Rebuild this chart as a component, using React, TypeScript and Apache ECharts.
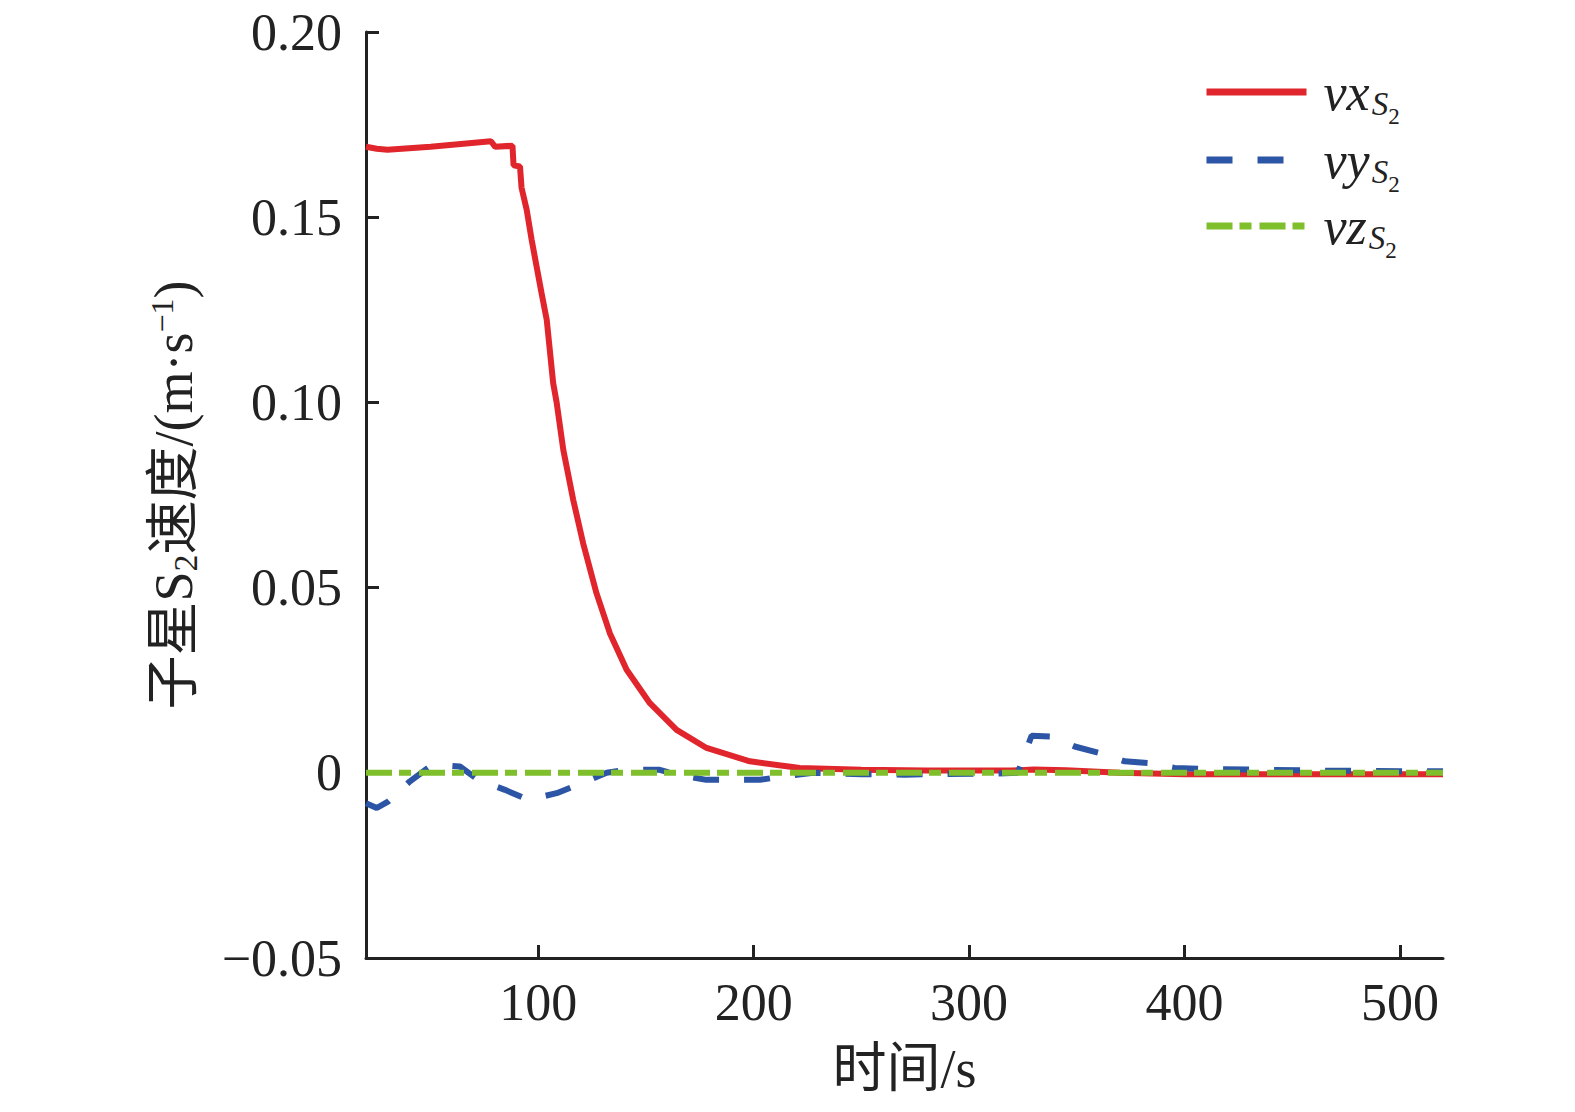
import React, { useEffect, useRef } from "react";
import * as echarts from "echarts";

const timeVx = [20, 25, 30, 50, 78, 80, 88, 88.5, 91.5, 92.2, 94.6, 96.9, 99.2, 101.5, 103.9, 106.9, 108.5, 111.6, 116.2, 120.8, 127, 133.2, 141, 151.8, 164.2, 178.1, 198.2, 221.4, 250, 280, 300, 320, 330, 345, 370, 400, 450, 520];
const vx = [0.169, 0.1685, 0.1682, 0.169, 0.1705, 0.169, 0.1693, 0.164, 0.1637, 0.158, 0.152, 0.1439, 0.1367, 0.1295, 0.1223, 0.1052, 0.1, 0.0872, 0.0737, 0.062, 0.0485, 0.0377, 0.0278, 0.0188, 0.0116, 0.0067, 0.0031, 0.0013, 0.0008, 0.0006, 0.0006, 0.0006, 0.0009, 0.0007, 0.0, -0.0004, -0.0004, -0.0004];

const timeVy = [20, 25, 30.4, 40.4, 49.7, 57, 63.6, 72.1, 84.5, 95.3, 108.5, 118.5, 131.7, 141, 156.4, 164.2, 178, 202.8, 213.6, 227.6, 250, 270, 290, 313, 322.6, 329, 338, 349, 360.6, 372.2, 383.8, 395.4, 413, 437, 462, 486, 510, 520];
const vy = [-0.0082, -0.0095, -0.0077, -0.0023, 0.0017, 0.002, 0.0017, -0.0019, -0.0046, -0.0073, -0.0055, -0.0032, 0, 0.0008, 0.0008, -0.0005, -0.0019, -0.0019, -0.001, 0, -0.0004, -0.0005, -0.0003, -0.0002, 0, 0.01, 0.0098, 0.0071, 0.0053, 0.0031, 0.0026, 0.0013, 0.001, 0.0008, 0.0006, 0.0005, 0.0004, 0.0004];

const timeVz = [20, 520];
const vz = [0, 0];

const xTicks = [100, 200, 300, 400, 500];
const seriesNames = ["vx", "vy", "vz"];

const SERIF = "Liberation Serif, Noto Sans CJK SC, serif";

function pairs(xs: number[], ys: number[]) {
  return xs.map((x, i) => [x, ys[i]]);
}

export default function App() {
  const ref = useRef<HTMLDivElement>(null);
  useEffect(() => {
    if (!ref.current) return;
    const chart = echarts.init(ref.current, undefined, { renderer: "svg" });
    const legendRich = {
      i: { fontFamily: SERIF, fontStyle: "italic", fontSize: 52, lineHeight: 72, color: "#222" },
      s: { fontFamily: SERIF, fontStyle: "italic", fontSize: 33, verticalAlign: "bottom", padding: [0, 0, 8, 2], color: "#222" },
      n: { fontFamily: SERIF, fontSize: 23, verticalAlign: "bottom", color: "#222" },
    };
    const legendTops = [61, 129, 195];
    const legends = seriesNames.map((nm, k) => ({
      data: [nm],
      left: 1198,
      top: legendTops[k],
      itemWidth: 100,
      itemHeight: 14,
      icon: "inherit",
      selectedMode: false,
      lineStyle: { width: 7 },
      itemStyle: { opacity: 0 },
      formatter: (name: string) => `{i|${name}}{s|S}{n|2}`,
      textStyle: { padding: [0, 0, 0, 12], rich: legendRich },
    }));
    const axisLineStyle = { color: "#222", width: 3 };
    chart.setOption({
      animation: false,
      backgroundColor: "#fff",
      grid: { left: 366, top: 32, width: 1077, height: 926, containLabel: false },
      legend: legends,
      xAxis: {
        type: "value",
        min: 20,
        max: 520,
        name: "时间/s",
        nameLocation: "middle",
        nameGap: 84,
        nameTextStyle: { fontFamily: SERIF, fontSize: 54, color: "#222" },
        axisLine: { show: true, onZero: false, lineStyle: axisLineStyle },
        axisTick: { show: true, inside: true, length: 13, lineStyle: axisLineStyle, customValues: xTicks },
        axisLabel: { fontFamily: SERIF, fontSize: 52, color: "#222", margin: 18, customValues: xTicks },
        splitLine: { show: false },
      },
      yAxis: {
        type: "value",
        min: -0.05,
        max: 0.2,
        interval: 0.05,
        name: "子星S{sub|2}速度/(m·s{sup|−1})",
        nameLocation: "middle",
        nameGap: 160,
        nameTextStyle: {
          fontFamily: SERIF,
          fontSize: 54,
          lineHeight: 64,
          color: "#222",
          rich: {
            sub: { fontFamily: SERIF, fontSize: 34, verticalAlign: "bottom", color: "#222", padding: [0, 0, 4, 0] },
            sup: { fontFamily: SERIF, fontSize: 32, verticalAlign: "top", color: "#222", padding: [4, 0, 0, 0] },
          },
        },
        axisLine: { show: true, onZero: false, lineStyle: axisLineStyle },
        axisTick: { show: true, inside: true, length: 13, lineStyle: axisLineStyle },
        axisLabel: {
          fontFamily: SERIF,
          fontSize: 52,
          color: "#222",
          margin: 24,
          formatter: (v: number) => {
            if (Math.abs(v) < 1e-9) return "0";
            const s = Math.abs(v).toFixed(2);
            return v < 0 ? "\u2212" + s : s;
          },
        },
        splitLine: { show: false },
      },
      series: [
        {
          name: "vx",
          type: "line",
          data: pairs(timeVx, vx),
          showSymbol: false,
          symbol: "none",
          lineStyle: { color: "#e0262c", width: 6 },
          itemStyle: { color: "#e0262c" },
        },
        {
          name: "vy",
          type: "line",
          data: pairs(timeVy, vy),
          showSymbol: false,
          symbol: "none",
          lineStyle: { color: "#2c55a5", width: 6, type: [26, 25], cap: "butt" },
          itemStyle: { color: "#2c55a5" },
        },
        {
          name: "vz",
          type: "line",
          data: pairs(timeVz, vz),
          showSymbol: false,
          symbol: "none",
          lineStyle: { color: "#7fbf2c", width: 6, type: [26, 7, 12, 8], cap: "butt" },
          itemStyle: { color: "#7fbf2c" },
        },
      ],
    });
    return () => chart.dispose();
  }, []);
  return (
    <div
      ref={ref}
      style={{ position: "fixed", left: 0, top: 0, width: 1575, height: 1112, background: "#fff" }}
    />
  );
}
